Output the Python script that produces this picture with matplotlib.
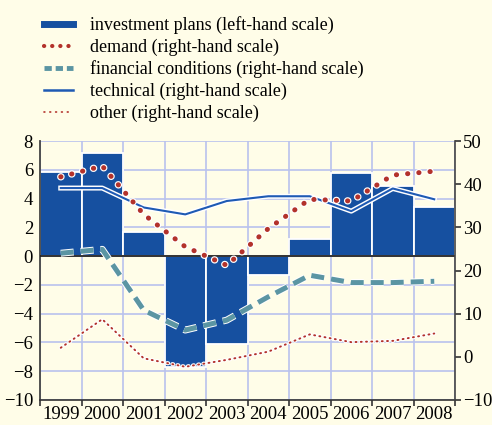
import matplotlib
matplotlib.use("Agg")
from matplotlib import pyplot as plt
from matplotlib.lines import Line2D
import matplotlib.patheffects as pe
import numpy as np

# data
years = ['1999', '2000', '2001', '2002', '2003', '2004', '2005', '2006', '2007', '2008']
investment = [5.85, 7.2, 1.7, -7.7, -6.1, -1.3, 1.2, 5.8, 4.9, 3.4]      # left-hand scale
demand = [41.7, 44.2, 33.0, 25.5, 21.2, 29.7, 36.5, 36.1, 42.1, 43.0]     # right-hand scale
financial = [24.0, 24.9, 10.8, 6.2, 8.5, 13.9, 18.9, 17.2, 17.2, 17.5]
technical = [39.1, 39.1, 34.6, 33.0, 36.1, 37.2, 37.2, 33.75, 39.0, 36.5]
other = [2.1, 8.7, -0.35, -2.3, -0.7, 1.2, 5.2, 3.4, 3.7, 5.4]

bg = '#fffde8'
bar_col = '#1650a0'
red = '#b3322b'
teal = '#5b95a3'
blue = '#1e5ab4'
grid_col = '#b9c2ee'

plt.rcParams['font.family'] = ['Liberation Serif', 'DejaVu Serif']

fig = plt.figure(figsize=(4.92, 4.25), dpi=100, facecolor=bg)
ax = fig.add_axes([40/492, 1-400/425, 415/492, 259/425])
ax.set_facecolor(bg)
x = np.arange(len(years))

# grid
for b in np.arange(-0.5, len(years), 1.0):
    ax.axvline(b, color=grid_col, lw=1.2, zorder=0)
for t in range(-10, 9, 2):
    ax.axhline(t, color=grid_col, lw=1.2, zorder=0)

ax.bar(x, investment, width=1.0, color=bar_col, edgecolor='white', lw=1.3, zorder=2)
ax.axhline(0, color='#222222', lw=1.3, zorder=3)

ax.set_xlim(-0.5, len(years) - 0.5)
ax.set_ylim(-10, 8)
ax.set_yticks(range(-10, 9, 2))
ax.tick_params(axis='y', length=0, labelsize=13.5, pad=5)
ax.set_xticks(np.arange(-0.5, len(years), 1.0), minor=False)
ax.set_xticklabels([])
ax.set_xticks(x, minor=True)
ax.set_xticklabels(years, minor=True)
ax.tick_params(axis='x', which='major', length=4, width=1.2, color='#333333', direction='out')
ax.tick_params(axis='x', which='minor', length=0, labelsize=13.5, pad=4)
ax.spines['top'].set_visible(False)
ax.spines['left'].set_color('#444444')
ax.spines['left'].set_linewidth(1.3)
ax.spines['bottom'].set_color('#333333')
ax.spines['bottom'].set_linewidth(1.2)
ax.spines['right'].set_visible(False)

ax2 = ax.twinx()
ax2.set_ylim(-10, 50)
ax2.set_yticks(range(-10, 51, 10))
ax2.tick_params(axis='y', length=4, width=1.2, color='#333333', labelsize=13.5, pad=2)
ax2.spines['right'].set_color('#444444')
ax2.spines['right'].set_linewidth(1.2)
for s in ['top', 'left', 'bottom']:
    ax2.spines[s].set_visible(False)

ax2.plot(x, other, color=red, lw=1.4, ls=(0, (0.5, 2.2)), dash_capstyle='round',
         zorder=3, path_effects=[pe.Stroke(linewidth=3.0, foreground='white'), pe.Normal()])
ax2.plot(x, technical, color=blue, lw=1.5, zorder=4,
         path_effects=[pe.Stroke(linewidth=3.6, foreground='white'), pe.Normal()])
ax2.plot(x, financial, color=teal, lw=3.6, ls=(0, (2.6, 1.4)), zorder=5,
         path_effects=[pe.Stroke(linewidth=5.0, foreground='white'), pe.Normal()])
ax2.plot(x, demand, color=red, lw=3.6, ls=(0, (0.05, 2.2)), dash_capstyle='round', zorder=6,
         path_effects=[pe.Stroke(linewidth=5.3, foreground='white'), pe.Normal()])

handles = [
    Line2D([], [], color=bar_col, lw=5),
    Line2D([], [], color=red, lw=3, ls=(0, (0.05, 1.9)), dash_capstyle='round'),
    Line2D([], [], color=teal, lw=3.5, ls=(0, (1.5, 0.8))),
    Line2D([], [], color=blue, lw=1.8),
    Line2D([], [], color=red, lw=1.2, ls=(0, (0.5, 3.0)), dash_capstyle='round'),
]
labels = ['investment plans (left-hand scale)', 'demand (right-hand scale)',
          'financial conditions (right-hand scale)', 'technical (right-hand scale)',
          'other (right-hand scale)']
fig.legend(handles, labels, loc='upper left', bbox_to_anchor=(37/492, 1-9/425),
           frameon=False, fontsize=13, handlelength=1.6, handletextpad=0.95,
           labelspacing=0.25, borderaxespad=0)

fig.savefig('out.png', dpi=100, facecolor=bg)
